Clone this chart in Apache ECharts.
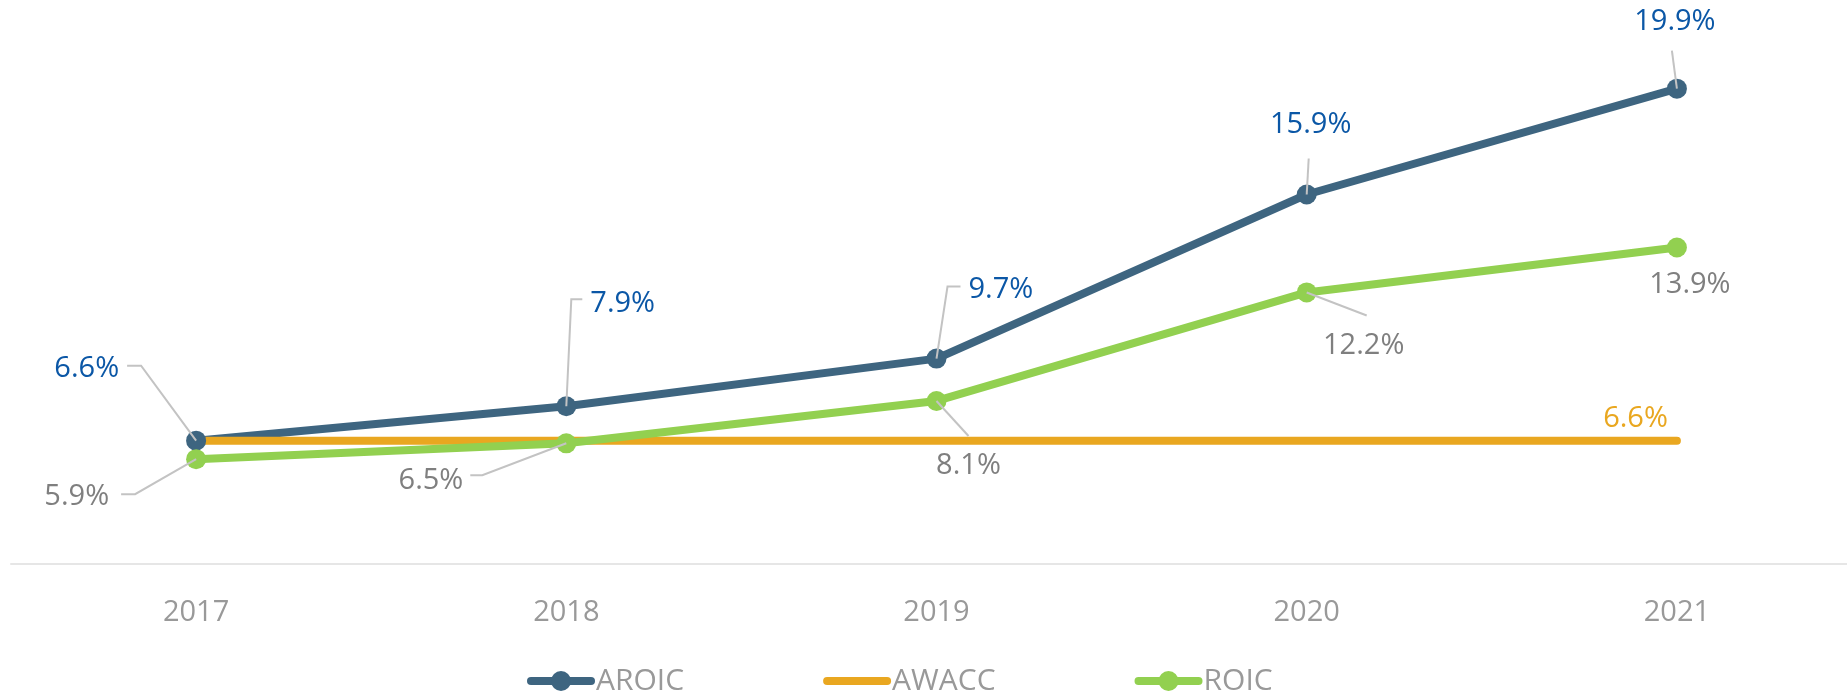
<!DOCTYPE html>
<html>
<head>
<meta charset="utf-8">
<script src="https://cdn.jsdelivr.net/npm/echarts@6/dist/echarts.min.js"></script>
<style>
html,body{margin:0;padding:0;background:#fff;}
#chart{width:1847px;height:695px;}
</style>
</head>
<body>
<div id="chart"></div>
<script>
// ---- data ----
const years = ['2017', '2018', '2019', '2020', '2021'];
const aroic = [6.6, 7.9, 9.7, 15.9, 19.9];
const awacc = [6.6, 6.6, 6.6, 6.6, 6.6];
const roic  = [5.9, 6.5, 8.1, 12.2, 13.9];
const seriesNames = ['AROIC', 'AWACC', 'ROIC'];

// ---- styles ----
const FONT = '"Segoe UI", "Open Sans", sans-serif';
const C_AROIC = '#3e6580';
const C_AWACC = '#e9a720';
const C_ROIC = '#92d050';
const C_BLUE_LBL = '#0b57a6';
const C_GREY_LBL = '#7f7f7f';
const C_LEADER = '#c3c3c3';

// label leader layouts: offsets (px) relative to each data point
const aroicLabelLayout = [
  { path: [[-55, -75], [-69, -75]], text: [-77, -72], align: 'right' },
  { path: [[5, -107], [16, -107]], text: [24, -103], align: 'left' },
  { path: [[11, -72], [24, -72]], text: [32, -69], align: 'left' },
  { path: [[2, -36]], text: [4, -70], align: 'center' },
  { path: [[-5, -38]], text: [-2, -67], align: 'center' }
];
const roicLabelLayout = [
  { path: [[-61, 35], [-75, 35]], text: [-87, 38], align: 'right' },
  { path: [[-84, 32], [-96, 32]], text: [-103, 37], align: 'right' },
  { path: [[32, 35]], text: [32, 65], align: 'center' },
  { path: [[60, 23]], text: [57, 53], align: 'center' },
  { path: [], text: [13, 37], align: 'center' }
];
const awaccLabelLayout = [null, null, null, null, { path: [], text: [-9, -22], align: 'right' }];

function labelSeries(values, layouts, color) {
  return {
    type: 'custom',
    z: 10,
    silent: true,
    data: values.map((v, i) => [i, v]),
    renderItem: function (params, api) {
      const lay = layouts[params.dataIndex];
      if (!lay) return null;
      const p = api.coord([api.value(0), api.value(1)]);
      const children = [];
      if (lay.path.length) {
        const pts = [p].concat(lay.path.map(o => [p[0] + o[0], p[1] + o[1]]));
        children.push({
          type: 'polyline',
          shape: { points: pts },
          style: { stroke: C_LEADER, lineWidth: 2, fill: null }
        });
      }
      children.push({
        type: 'text',
        x: p[0] + lay.text[0],
        y: p[1] + lay.text[1],
        style: {
          text: api.value(1).toFixed(1) + '%',
          fill: color,
          fontSize: 29,
          fontFamily: FONT,
          align: lay.align,
          textAlign: lay.align,
          verticalAlign: 'middle',
          textVerticalAlign: 'middle'
        }
      });
      return { type: 'group', children: children };
    }
  };
}

const chart = echarts.init(document.getElementById('chart'));
chart.setOption({
  animation: false,
  backgroundColor: '#fff',
  grid: { left: 11, width: 1851, top: 86, bottom: 131, containLabel: false, outerBoundsMode: 'none' },
  legend: {
    data: [
      { name: 'AROIC' },
      { name: 'AWACC', itemStyle: { color: 'rgba(0,0,0,0)', borderWidth: 0, opacity: 0 } },
      { name: 'ROIC' }
    ],
    left: 527,
    top: 666,
    padding: 0,
    itemWidth: 60,
    itemHeight: 25,
    itemGap: 139,
    lineStyle: { width: 8, cap: 'round' },
    textStyle: { fontSize: 30, color: '#999999', fontFamily: FONT }
  },
  xAxis: {
    type: 'category',
    data: years,
    boundaryGap: true,
    axisLine: { lineStyle: { color: '#e6e6e6', width: 2 } },
    axisTick: { show: false },
    axisLabel: { color: '#999999', fontSize: 29, margin: 34, fontFamily: FONT }
  },
  yAxis: {
    type: 'value',
    min: 1.94,
    max: 20,
    show: false,
    splitLine: { show: false }
  },
  series: [
    {
      name: 'AROIC', type: 'line', data: aroic,
      symbol: 'circle', symbolSize: 20,
      lineStyle: { color: C_AROIC, width: 8, cap: 'round', join: 'round' },
      itemStyle: { color: C_AROIC }
    },
    {
      name: 'AWACC', type: 'line', data: awacc,
      symbol: 'none', showSymbol: false,
      lineStyle: { color: C_AWACC, width: 8, cap: 'round' },
      itemStyle: { color: C_AWACC }
    },
    {
      name: 'ROIC', type: 'line', data: roic,
      symbol: 'circle', symbolSize: 20,
      lineStyle: { color: C_ROIC, width: 8, cap: 'round', join: 'round' },
      itemStyle: { color: C_ROIC }
    },
    labelSeries(aroic, aroicLabelLayout, C_BLUE_LBL),
    labelSeries(awacc, awaccLabelLayout, C_AWACC),
    labelSeries(roic, roicLabelLayout, C_GREY_LBL)
  ]
});
</script>
</body>
</html>
